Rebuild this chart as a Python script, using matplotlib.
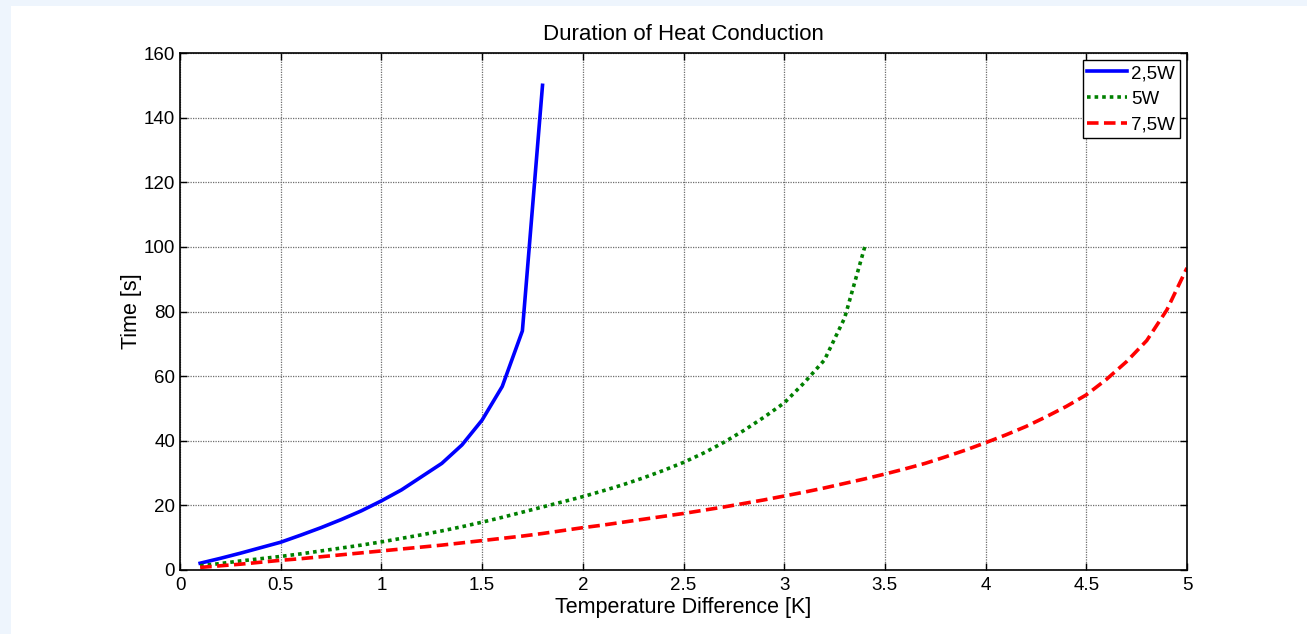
import matplotlib.pyplot as plt
from matplotlib.patches import Rectangle
from matplotlib.ticker import FormatStrFormatter

# Temperature difference [K] for each power level
dt_25 = [0.1, 0.2, 0.3, 0.4, 0.5, 0.6, 0.7, 0.8, 0.9, 1.0,
         1.1, 1.2, 1.3, 1.4, 1.5, 1.6, 1.7, 1.8]
t_25 = [2.1, 3.6, 5.2, 6.9, 8.6, 10.8, 13.1, 15.6, 18.3, 21.4,
        24.8, 28.9, 33.0, 38.7, 46.4, 56.8, 74.0, 150.0]

dt_5 = [0.1, 0.2, 0.3, 0.4, 0.5, 0.6, 0.7, 0.8, 0.9, 1.0,
        1.1, 1.2, 1.3, 1.4, 1.5, 1.6, 1.7, 1.8, 1.9, 2.0,
        2.1, 2.2, 2.3, 2.4, 2.5, 2.6, 2.7, 2.8, 2.9, 3.0,
        3.1, 3.2, 3.3, 3.4]
t_5 = [1.3, 2.0, 2.8, 3.5, 4.2, 5.0, 5.9, 6.8, 7.7, 8.7,
       9.8, 10.9, 12.1, 13.4, 14.8, 16.3, 17.9, 19.5, 21.1, 22.7,
       24.5, 26.4, 28.5, 30.8, 33.3, 36.2, 39.5, 43.2, 47.3, 51.7,
       58.0, 65.0, 78.0, 100.0]

dt_75 = [0.1, 0.2, 0.3, 0.4, 0.5, 0.6, 0.7, 0.8, 0.9, 1.0,
         1.1, 1.2, 1.3, 1.4, 1.5, 1.6, 1.7, 1.8, 1.9, 2.0,
         2.1, 2.2, 2.3, 2.4, 2.5, 2.6, 2.7, 2.8, 2.9, 3.0,
         3.1, 3.2, 3.3, 3.4, 3.5, 3.6, 3.7, 3.8, 3.9, 4.0,
         4.1, 4.2, 4.3, 4.4, 4.5, 4.6, 4.7, 4.8, 4.9, 5.0]
t_75 = [0.8, 1.3, 1.8, 2.4, 3.0, 3.5, 4.1, 4.7, 5.3, 5.9,
        6.5, 7.1, 7.7, 8.4, 9.1, 9.8, 10.5, 11.3, 12.2, 13.1,
        13.9, 14.8, 15.7, 16.6, 17.5, 18.5, 19.5, 20.6, 21.7, 22.9,
        24.1, 25.4, 26.8, 28.2, 29.7, 31.3, 33.0, 35.0, 37.1, 39.4,
        41.8, 44.4, 47.4, 50.6, 54.2, 59.0, 64.5, 71.0, 80.5, 93.5]

labels = ["2,5W", "5W", "7,5W"]

plt.rcParams["font.family"] = ["Liberation Sans", "DejaVu Sans"]
plt.rcParams["font.size"] = 13.5

fig = plt.figure(figsize=(13.07, 6.34), dpi=100)
fig.patch.set_facecolor("#eef5fd")
# white panel, leaving the thin light blue strip on the left and top
fig.patches.append(Rectangle((11 / 1307, 0), 1, 1 - 6 / 634, transform=fig.transFigure,
                             facecolor="white", edgecolor="none", zorder=-10))

ax = fig.add_axes([180 / 1307, 1 - 570 / 634, 1007 / 1307, 517 / 634])
ax.plot(dt_25, t_25, color="#0000ff", lw=2.6, ls="-", label=labels[0])
ax.plot(dt_5, t_5, color="#008000", lw=2.6, ls=(0, (1, 1.1)), label=labels[1])
ax.plot(dt_75, t_75, color="#ff0000", lw=2.6, ls=(0, (3.2, 1.5)), label=labels[2])

ax.set_xlim(0, 5)
ax.set_ylim(0, 160)
ax.set_xticks([0, 0.5, 1, 1.5, 2, 2.5, 3, 3.5, 4, 4.5, 5])
ax.set_yticks(range(0, 161, 20))
ax.xaxis.set_major_formatter(FormatStrFormatter("%g"))
ax.tick_params(direction="in", top=True, right=True, length=5, width=1)
ax.tick_params(axis="y", pad=3.5)
ax.tick_params(axis="x", pad=5)
ax.grid(True, color="#6e6e6e", lw=0.9, ls=(0, (1, 1)))
for s in ax.spines.values():
    s.set_linewidth(1.2)

ax.set_title("Duration of Heat Conduction", fontsize=16, pad=9)
ax.set_xlabel("Temperature Difference [K]", fontsize=15.5, labelpad=2)
ax.set_ylabel("Time [s]", fontsize=15.5, labelpad=1)

leg = ax.legend(loc="upper right", bbox_to_anchor=(0.993, 0.986), fancybox=False,
                framealpha=1, edgecolor="black", fontsize=13.5, handlelength=2.1,
                handletextpad=0.25, borderpad=0.25, labelspacing=0.45, borderaxespad=0)
leg.get_frame().set_linewidth(1.0)

fig.savefig("out.png", dpi=100, facecolor=fig.get_facecolor())
